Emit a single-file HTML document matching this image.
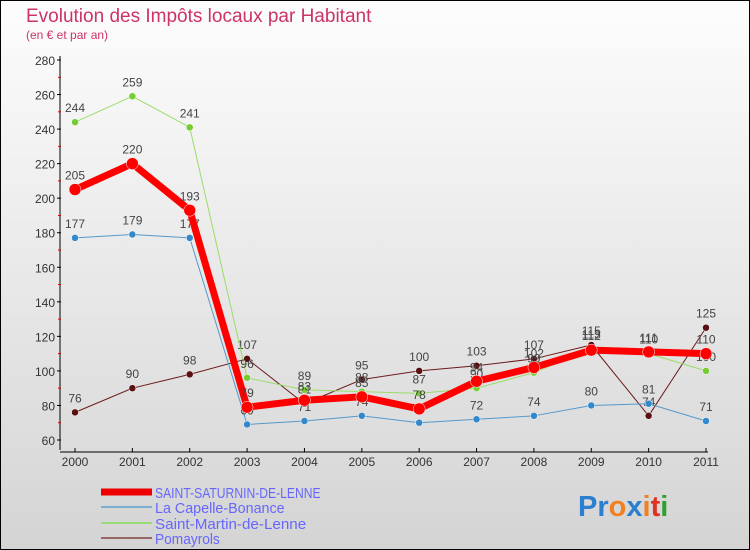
<!DOCTYPE html>
<html><head><meta charset="utf-8"><style>
body{margin:0;}
#c{width:750px;height:550px;position:relative;overflow:hidden;background:linear-gradient(#fdfdfd,#d4d4d4);font-family:"Liberation Sans",sans-serif;}
svg text{font-family:"Liberation Sans",sans-serif;}
</style></head><body>
<div id="c">
<svg id="s" width="750" height="550" xmlns="http://www.w3.org/2000/svg">
<rect x="0.5" y="0.5" width="749" height="549" fill="none" stroke="#000"/>
<text x="26" y="22" font-size="19" fill="#cc3366">Evolution des Impôts locaux par Habitant</text>
<text x="26" y="39" font-size="12" fill="#cc3366">(en € et par an)</text>
<g id="axes"></g>
<g id="series"></g>
<g id="legend"></g>
<text x="578" y="516" font-size="29" font-weight="bold"><tspan fill="#2a7fd0">Pr</tspan><tspan fill="#f08020">o</tspan><tspan fill="#2a7fd0">x</tspan><tspan fill="#f08020">i</tspan><tspan fill="#e03020">t</tspan><tspan fill="#30a030">i</tspan></text>
</svg>
</div>
<script>
const years=[2000,2001,2002,2003,2004,2005,2006,2007,2008,2009,2010,2011];
const yTicks=[60,80,100,120,140,160,180,200,220,240,260,280];
const saint=[205,220,193,79,83,85,78,94,102,112,111,110];
const capelle=[177,179,177,69,71,74,70,72,74,80,81,71];
const martin=[244,259,241,96,89,88,87,90,99,113,110,100];
const pomayrols=[76,90,98,107,81,95,100,103,107,115,74,125];
const names=["SAINT-SATURNIN-DE-LENNE","La Capelle-Bonance","Saint-Martin-de-Lenne","Pomayrols"];
const NS="http://www.w3.org/2000/svg";
const X=i=>75+i*(706-75)/(years.length-1);
const Y=v=>440-(v-60)*(380/220);
function mk(tag,at,par){const e=document.createElementNS(NS,tag);for(const k in at)e.setAttribute(k,at[k]);par.appendChild(e);return e;}
const ax=document.getElementById('axes');
const yl=mk('line',{x1:60,y1:56,x2:60,y2:450,stroke:'#000'},ax);


const xl=mk('line',{x1:60,y1:452,x2:708,y2:452,stroke:'#000'},ax);


yTicks.forEach(v=>{
 mk('line',{x1:57,y1:Y(v),x2:61,y2:Y(v),stroke:'#000'},ax);
 if(v<280) mk('line',{x1:58,y1:Y(v+10),x2:61,y2:Y(v+10),stroke:'#d00'},ax);
 const t=mk('text',{x:55,y:Y(v)+5,'font-size':12,'text-anchor':'end',fill:'#333'},ax);t.textContent=v;
 
 
});
years.forEach((yr,i)=>{
 mk('line',{x1:X(i),y1:448,x2:X(i),y2:452,stroke:'#000'},ax);
 const t=mk('text',{x:X(i),y:466,'font-size':12,'text-anchor':'middle',fill:'#333'},ax);t.textContent=yr;
 
 
});
const sg=document.getElementById('series');
const defs=[[pomayrols,'#6b1a1a','#5a1010',1,3.5],[martin,'#99dd66','#77cc33',1,3.5],[capelle,'#5599cc','#3388cc',1,3.5],[saint,'#ff0000','#ff0000',7,6]];
const keys=['pomayrols','saint-martin-de-lenne','la-capelle-bonance','saint-saturnin-de-lenne'];
defs.forEach((d,k)=>{
 const g=mk('g',{},sg);
 
 
 const p=mk('polyline',{points:d[0].map((v,i)=>X(i)+','+Y(v)).join(' '),fill:'none',stroke:d[1],'stroke-width':d[3],'stroke-linejoin':'round'},g);
 
 
 d[0].forEach((v,i)=>{
  const c=mk('circle',{cx:X(i),cy:Y(v),r:d[4],fill:d[2],stroke:'#fff','stroke-width':0.5},g);
  
  
  const t=mk('text',{x:X(i),y:Y(v)-10,'font-size':12,'text-anchor':'middle',fill:'#444'},g);t.textContent=v;
  
  
 });
});
const lg=document.getElementById('legend');
const lc=['#ee0000','#7aaed0','#99dd77','#996666'],lw=[7,2,2,2],ly=[492,507,523,538];
names.forEach((n,i)=>{
 const l=mk('line',{x1:101,y1:ly[i],x2:152,y2:ly[i],stroke:lc[i],'stroke-width':lw[i]},lg);
 
 
 const t=mk('text',{x:155,y:ly[i]+6,'font-size':15,fill:'#6666ff',textLength:n.length*7.6>200?200:n.length*7.2,lengthAdjust:'spacingAndGlyphs'},lg);t.textContent=n;
 
 
});
</script>
</body></html>
